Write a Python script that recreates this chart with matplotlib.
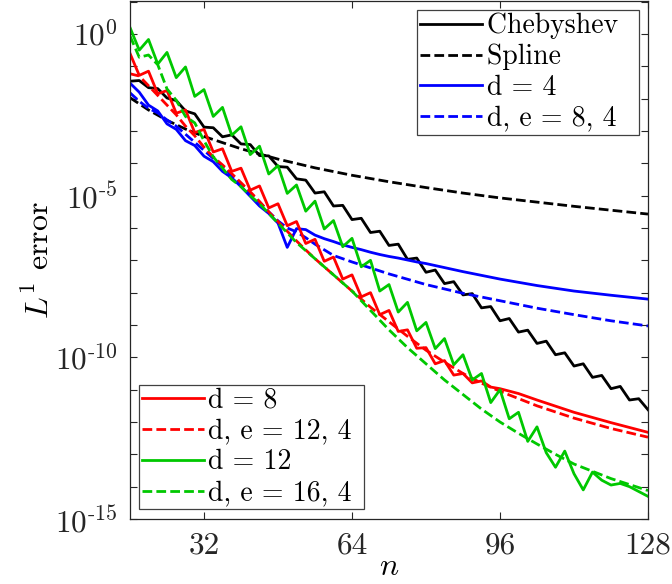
import numpy as np
import matplotlib
matplotlib.use("Agg")
import matplotlib.pyplot as plt

plt.rcParams['font.family'] = 'cmr10'
plt.rcParams['mathtext.fontset'] = 'cm'
plt.rcParams['axes.unicode_minus'] = False

# ---- data (log10 of L1 error) ----
n_cheb = np.arange(16, 129, 2)
cheb_log = [-1.46, -1.44, -1.66, -1.69, -1.98, -2.06, -2.38, -2.47, -2.88, -2.90,
            -3.18, -3.12, -3.40, -3.42, -3.76, -3.77, -4.10, -4.12, -4.48, -4.52,
            -4.92, -4.88, -5.32, -5.30, -5.74, -5.70, -6.14, -6.10, -6.54, -6.50,
            -6.97, -6.93, -7.37, -7.30, -7.72, -7.66, -8.07, -8.03, -8.47, -8.43,
            -8.87, -8.80, -9.22, -9.16, -9.57, -9.50, -9.92, -9.86, -10.27, -10.20,
            -10.62, -10.56, -10.97, -10.90, -11.32, -11.28, -11.62]

n_spline = [16, 20, 24, 28, 32, 40, 48, 56, 64, 72, 80, 88, 96, 104, 112, 120, 128]
spline_log = [-1.97, -2.35, -2.67, -2.94, -3.17, -3.55, -3.87, -4.14, -4.37, -4.57,
              -4.75, -4.92, -5.07, -5.20, -5.33, -5.45, -5.57]

n_d4 = list(range(16, 81, 2)) + [88, 96, 104, 112, 120, 128]
d4_log = [-1.52, -1.80, -2.20, -2.38, -2.78, -2.95, -3.30, -3.45, -3.78, -3.95,
          -4.25, -4.45, -4.72, -5.02, -5.32, -5.55, -5.85, -6.60, -6.02, -6.05,
          -6.22, -6.33, -6.42, -6.52, -6.60, -6.67, -6.75, -6.82, -6.88, -6.93,
          -6.99, -7.05, -7.10, -7.35, -7.58, -7.78, -7.95, -8.08, -8.20]

n_de84 = list(range(16, 57, 2)) + [60, 64, 72, 80, 88, 96, 104, 112, 120, 128]
de84_log = [-1.82, -2.08, -2.30, -2.44, -2.66, -2.85, -3.10, -3.35, -3.60, -3.85,
            -4.10, -4.38, -4.65, -4.92, -5.20, -5.50, -5.78, -6.00, -6.12, -6.30,
            -6.50, -6.85, -7.05, -7.42, -7.75, -8.02, -8.25, -8.48, -8.68, -8.87, -9.03]

n_d8 = list(range(16, 95, 2)) + [96, 100, 104, 112, 120, 128]
d8_log = [-0.60, -1.28, -1.15, -1.85, -1.75, -2.45, -2.35, -3.05, -2.95, -3.65,
          -3.55, -4.25, -4.15, -4.83, -4.70, -5.38, -5.25, -5.93, -5.80, -6.48,
          -6.35, -7.03, -6.90, -7.58, -7.45, -8.13, -8.00, -8.68, -8.55, -9.20,
          -9.15, -9.72, -9.70, -10.20, -10.10, -10.55, -10.50, -10.79, -10.73, -10.92,
          -10.97, -11.12, -11.32, -11.70, -12.02, -12.32]

n_de124 = list(range(16, 57, 2)) + [60, 64, 68, 72, 76, 80, 84, 88, 92, 96, 104, 112, 120, 128]
de124_log = [-1.23, -1.30, -1.60, -1.90, -2.20, -2.50, -2.85, -3.15, -3.50, -3.80,
             -4.05, -4.32, -4.60, -4.88, -5.18, -5.50, -5.80, -6.10, -6.40, -6.68,
             -6.95, -7.45, -7.95, -8.45, -8.90, -9.35, -9.78, -10.15, -10.50, -10.80,
             -11.05, -11.50, -11.88, -12.20, -12.47]

n_d12 = np.arange(16, 129, 2)
d12_log = [0.20, -0.50, -0.17, -0.93, -0.57, -1.35, -1.02, -1.93, -1.72, -2.55,
           -2.27, -3.13, -2.87, -3.73, -3.47, -4.33, -4.07, -4.93, -4.67, -5.48,
           -5.17, -6.03, -5.77, -6.58, -6.32, -7.20, -7.00, -7.95, -7.75, -8.60,
           -8.30, -9.18, -8.92, -9.73, -9.42, -10.23, -9.92, -10.70, -10.50, -11.40,
           -11.00, -11.90, -11.70, -12.60, -12.15, -12.95, -13.40, -12.90, -13.60, -14.10,
           -13.55, -13.80, -13.95, -13.90, -14.00, -14.15, -14.30]

n_de164 = [16, 18, 20, 22, 24, 26, 28, 30, 32, 34, 36, 38, 40, 42, 44, 46, 48, 52, 56,
           60, 64, 68, 72, 76, 80, 84, 88, 92, 96, 100, 104, 108, 112, 120, 128]
de164_log = [-0.06, -0.72, -0.65, -0.95, -1.70, -2.05, -2.55, -2.75, -3.30, -3.80,
             -4.15, -4.50, -4.72, -5.00, -5.25, -5.55, -5.85, -6.45, -6.95, -7.45,
             -7.95, -8.55, -9.15, -9.70, -10.20, -10.70, -11.15, -11.60, -12.00, -12.35,
             -12.68, -13.00, -13.30, -13.75, -14.12]

labels = ['Chebyshev', 'Spline', 'd = 4', 'd, e = 8, 4',
          'd = 8', 'd, e = 12, 4', 'd = 12', 'd, e = 16, 4']

BLACK, BLUE, RED, GREEN = 'black', '#0000FF', '#FF0000', '#00C800'

fig = plt.figure(figsize=(6.72, 5.84), dpi=100)
ax = fig.add_axes([130/672, 1 - 519/584, 518/672, 518/584])

lw = 2.0
dash = (3.5, 1.5)
series = [
    (n_cheb, cheb_log, BLACK, '-'),
    (n_spline, spline_log, BLACK, '--'),
    (n_d4, d4_log, BLUE, '-'),
    (n_de84, de84_log, BLUE, '--'),
    (n_d8, d8_log, RED, '-'),
    (n_de124, de124_log, RED, '--'),
    (n_d12, d12_log, GREEN, '-'),
    (n_de164, de164_log, GREEN, '--'),
]
handles = []
for (nx, ly, c, ls), lab in zip(series, labels):
    assert len(nx) == len(ly), lab
    if ls == '--':
        h, = ax.plot(nx, 10.0 ** np.array(ly), color=c, lw=lw, dashes=dash, label=lab)
    else:
        h, = ax.plot(nx, 10.0 ** np.array(ly), color=c, lw=lw, label=lab)
    handles.append(h)

ax.set_yscale('log')
ax.set_xlim(16, 128)
ax.set_ylim(1e-15, 10**1.02)

ax.set_xticks([32, 64, 96, 128])
ax.set_xticklabels(['32', '64', '96', '128'])
yt = [10.0 ** k for k in range(-15, 2)]
ax.set_yticks(yt)
ylabs = []
for k in range(-15, 2):
    if k == 0:
        ylabs.append(r'$10^{0}$')
    elif k in (-5, -10, -15):
        ylabs.append(r'$10^{\text{-}%d}$' % (-k))
    else:
        ylabs.append('')
ax.set_yticklabels(ylabs)
ax.minorticks_off()
ax.tick_params(axis='both', which='both', direction='in', length=5, width=0.8,
               top=True, right=True, labelsize=22.5, colors='#262626')
ax.tick_params(axis='y', pad=9)
ax.tick_params(axis='x', pad=9)
for lab in ax.get_xticklabels() + ax.get_yticklabels():
    lab.set_color('#262626')
for sp in ax.spines.values():
    sp.set_linewidth(0.9)
    sp.set_color('#262626')

ax.set_xlabel(r'$n$', fontsize=23, labelpad=-4)
ax.set_ylabel(r'$L^1$ error', fontsize=23, labelpad=0)

leg_kw = dict(fontsize=20, frameon=True, fancybox=False, framealpha=1,
              edgecolor='#404040', handlelength=2.25, handletextpad=0.15,
              labelspacing=0.16, borderpad=0.1, borderaxespad=0.0)
leg1 = ax.legend(handles[:4], [l + '  ' for l in labels[:4]], loc='upper right',
                 bbox_to_anchor=(0.9826, 0.9826), **leg_kw)
leg1.get_frame().set_linewidth(0.9)
ax.add_artist(leg1)
leg2 = ax.legend(handles[4:], [l + ' ' for l in labels[4:]], loc='lower left',
                 bbox_to_anchor=(0.0174, 0.0193), **leg_kw)
leg2.get_frame().set_linewidth(0.9)

fig.savefig('out.png', dpi=100)
